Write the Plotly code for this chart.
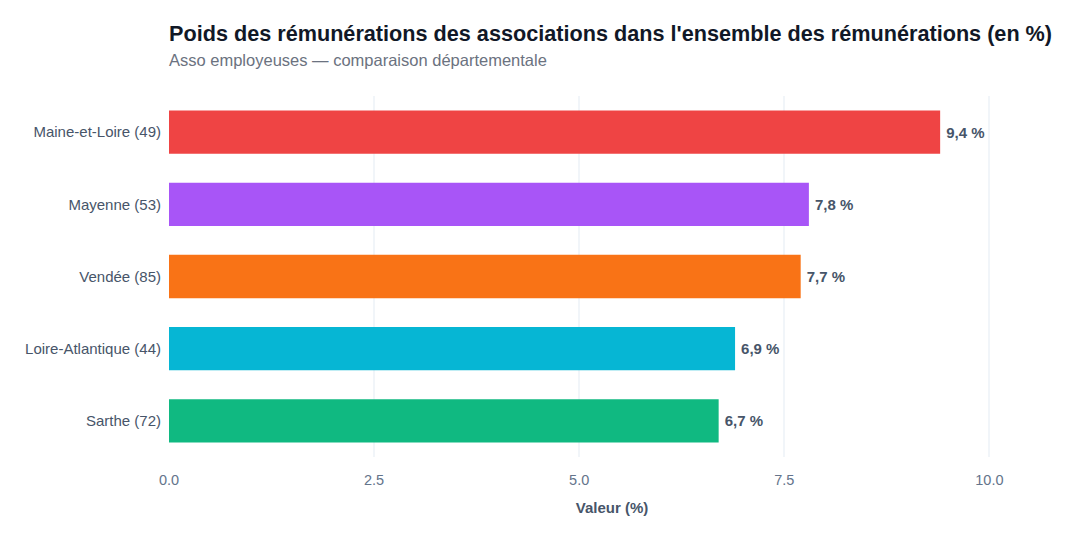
import plotly.graph_objects as go

categories = ["Maine-et-Loire (49)", "Mayenne (53)", "Vendée (85)", "Loire-Atlantique (44)", "Sarthe (72)"]
values = [9.4, 7.8, 7.7, 6.9, 6.7]
colors = ["#ef4444", "#a855f7", "#f97316", "#06b6d4", "#10b981"]
labels = ["\u2009" + f"{v:.1f}".replace(".", ",") + " %" for v in values]
tick_vals = [0, 2.5, 5, 7.5, 10]
tick_text = ["0.0", "2.5", "5.0", "7.5", "10.0"]

font = "Liberation Sans, Arial, sans-serif"
W, H = 1080, 540
ML, MR, MT, MB = 169, 25, 96, 83
plot_h = H - MT - MB

fig = go.Figure(go.Bar(
    x=values, y=categories, orientation="h",
    marker=dict(color=colors, line=dict(width=0)),
    text=labels, textposition="outside", cliponaxis=False,
    textfont=dict(family=font, size=15, color="#475569", weight="bold"),
    width=0.6,
))

fig.update_layout(
    width=W, height=H,
    paper_bgcolor="white", plot_bgcolor="white",
    margin=dict(l=ML, r=MR, t=MT, b=MB),
    font=dict(family=font, color="#475569"),
    title=dict(text="<b>Poids des rémunérations des associations dans l'ensemble des rémunérations (en %)</b>",
               x=ML/W, xanchor="left", xref="container", y=1-33/H, yanchor="middle", yref="container",
               font=dict(size=21.65, color="#111827", family=font)),
    annotations=[dict(text="Asso employeuses — comparaison départementale", xref="paper", yref="paper",
                      x=0, y=(H - MB - 60) / plot_h, xanchor="left", yanchor="middle", showarrow=False,
                      xshift=-2,
                      font=dict(size=16.5, color="#6b7280", family=font))],
    showlegend=False,
)
fig.update_xaxes(range=[0, 10.8], tickvals=tick_vals, ticktext=tick_text,
                 showgrid=True, gridcolor="#f1f5f9", gridwidth=2, zeroline=False,
                 tickfont=dict(size=14.5, color="#64748b"), ticklabelstandoff=12,
                 title=dict(text="<b>Valeur (%)</b>", font=dict(size=15, color="#475569"), standoff=15),
                 showline=False, ticks="")
fig.update_yaxes(autorange="reversed", showgrid=False, tickfont=dict(size=15, color="#475569"),
                 ticks="outside", ticklen=4, tickcolor="white", showline=False)

fig.write_html("out.html")
